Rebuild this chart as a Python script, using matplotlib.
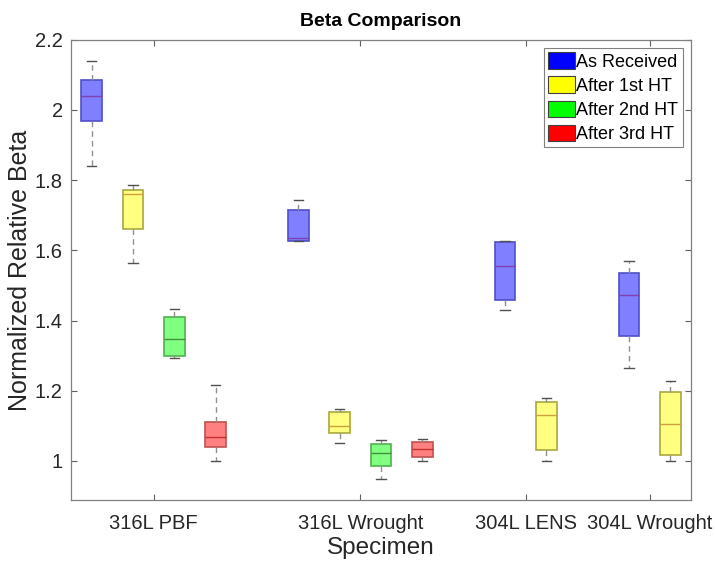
import matplotlib
matplotlib.use("Agg")
import matplotlib.pyplot as plt
from matplotlib.patches import Patch

plt.rcParams['font.family'] = ['Liberation Sans', 'DejaVu Sans']

# ---- data ----
specimens = ["316L PBF", "316L Wrought", "304L LENS", "304L Wrought"]
treatments = ["As Received", "After 1st HT", "After 2nd HT", "After 3rd HT"]

# per box: (specimen index, treatment index)
box_group = [0, 0, 0, 0, 1, 1, 1, 1, 2, 2, 3, 3]
box_treat = [0, 1, 2, 3, 0, 1, 2, 3, 0, 1, 0, 1]
box_pos = [1, 2, 3, 4, 6, 7, 8, 9, 11, 12, 14, 15]

whislo = [1.840, 1.563, 1.293, 0.999, 1.626, 1.051, 0.948, 0.999, 1.430, 1.001, 1.264, 1.000]
q1     = [1.970, 1.661, 1.299, 1.039, 1.628, 1.081, 0.986, 1.012, 1.458, 1.032, 1.356, 1.018]
med    = [2.040, 1.760, 1.347, 1.068, 1.634, 1.101, 1.024, 1.035, 1.555, 1.130, 1.474, 1.105]
q3     = [2.085, 1.772, 1.410, 1.111, 1.716, 1.139, 1.048, 1.054, 1.624, 1.167, 1.535, 1.197]
whishi = [2.140, 1.786, 1.432, 1.217, 1.744, 1.149, 1.059, 1.062, 1.626, 1.180, 1.569, 1.227]

group_ticks = [2.5, 7.5, 11.5, 14.5]

fill_colors = ["#7f7fff", "#ffff80", "#80ff80", "#ff8080"]
edge_colors = ["#5050c8", "#a8a840", "#50b050", "#c05050"]
median_colors = ["#8040b0", "#d0a040", "#409040", "#c03030"]
legend_colors = ["#0000ff", "#ffff00", "#00ff00", "#ff0000"]

fig = plt.figure(figsize=(7.15, 5.63), dpi=100)
ax = fig.add_axes([0.0993, 0.1114, 0.9664 - 0.0993, 0.9293 - 0.1114])

for i in range(len(box_pos)):
    t = box_treat[i]
    stats = [dict(whislo=whislo[i], q1=q1[i], med=med[i], q3=q3[i], whishi=whishi[i], fliers=[])]
    ax.bxp(stats, positions=[box_pos[i]], widths=0.5, patch_artist=True,
           showfliers=False,
           boxprops=dict(facecolor=fill_colors[t], edgecolor=edge_colors[t], linewidth=1.2),
           medianprops=dict(color=median_colors[t], linewidth=1.0),
           whiskerprops=dict(color="#909090", linestyle=(0, (4, 3)), linewidth=1.0),
           capprops=dict(color="#505050", linewidth=1.0),
           capwidths=0.22)

ax.set_xlim(0.5, 15.5)
ax.set_ylim(0.888, 2.2)
ax.set_xticks(group_ticks)
ax.set_xticklabels(specimens)
ax.set_yticks([1.0, 1.2, 1.4, 1.6, 1.8, 2.0, 2.2])
ax.set_yticklabels(["1", "1.2", "1.4", "1.6", "1.8", "2", "2.2"])
ax.tick_params(direction="in", top=True, right=True, length=4, width=0.8,
               colors="#606060", labelcolor="#262626", labelsize=14.5)
ax.tick_params(axis="x", pad=10)
ax.tick_params(axis="y", pad=6)
for s in ax.spines.values():
    s.set_color("#808080")
    s.set_linewidth(0.9)

ax.set_xlabel("Specimen", fontsize=17.5, color="#262626", labelpad=3)
ax.set_ylabel("Normalized Relative Beta", fontsize=18, color="#262626", labelpad=2)
ax.set_title("Beta Comparison", fontsize=14, fontweight="bold", pad=10)

handles = [Patch(facecolor=legend_colors[k], edgecolor="#404040", linewidth=0.8,
                 label=treatments[k]) for k in range(4)]
leg = ax.legend(handles=handles, loc="upper right", fontsize=13, fancybox=False,
                edgecolor="#808080", framealpha=1, handlelength=1.45, handleheight=1.0,
                handletextpad=0.1, labelspacing=0.32, borderpad=0.25,
                borderaxespad=0.45)
leg.get_frame().set_linewidth(0.8)

fig.savefig("out.png", dpi=100)
